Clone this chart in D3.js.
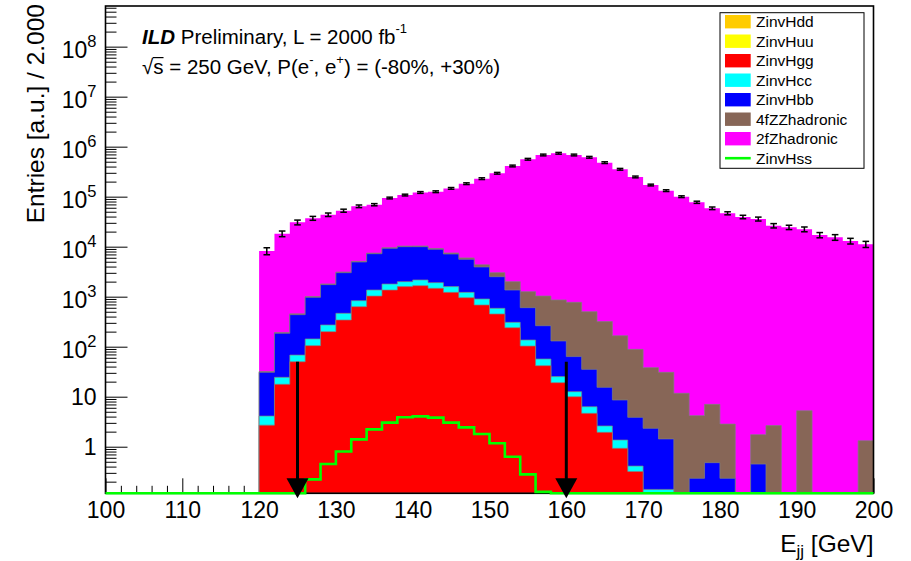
<!DOCTYPE html>
<html>
<head>
<meta charset="utf-8">
<script src="https://cdn.jsdelivr.net/npm/d3@7"></script>
<style>
body { margin: 0; background: #fff; }
text { font-family: "Liberation Sans", Arial, Helvetica, sans-serif; fill: #000; }
</style>
</head>
<body>
<div id="chart"></div>
<script>
// 2 GeV bins from 100 to 200 GeV
var binEdges = d3.range(100, 201, 2);

// bin contents (bins below 120 GeV are empty)
var zinvHdd = [0,0,0,0,0,0,0,0,0,0, 0,0,0,0,0,0,0,0,0,0, 0,0,0,0,0,0,0,0,0,0, 0,0,0,0,0,0,0,0,0,0, 0,0,0,0,0,0,0,0,0,0];
var zinvHuu = [0,0,0,0,0,0,0,0,0,0, 0,0,0,0,0,0,0,0,0,0, 0,0,0,0,0,0,0,0,0,0, 0,0,0,0,0,0,0,0,0,0, 0,0,0,0,0,0,0,0,0,0];
var zinvHgg = [0,0,0,0,0,0,0,0,0,0, 2.7,17.7,50,105,200,342,631,1030,1360,1590, 1660,1470,1220,955,682,451,240,103,41.7,19.1, 10.0,4.65,1.94,0.93,0.32,0,0,0,0,0, 0,0,0,0,0,0,0,0,0,0];
var zinvHcc = [0,0,0,0,0,0,0,0,0,0, 1.4,6.7,18,38,72,123,201,330,430,410, 500,440,370,265,217,134,67,33,15,6.1, 2.6,1.65,0.66,0.43,0.09,0.14,0.14,0,0,0, 0,0,0,0,0,0,0,0,0,0];
var zinvHbb = [0,0,0,0,0,0,0,0,0,0, 26.6,161,369,827,1470,2555,4110,5880,7480,8000, 7840,6940,5550,4360,3030,1925,1053,467,206,105, 50.8,28.9,12.8,7.24,3.45,2.19,1.29,0,0.233,0.48, 0.233,0,0.45,0,0,0,0,0,0,0];
var zz4fHadronic = [0,0,0,0,0,0,0,0,0,0, 1.2,7,17,35,60,100,150,210,260,300, 330,350,360,380,400,510,640,657,767,729, 708,467,302,157,84.6,35.8,29.3,11.7,3.95,6.55, 2.6,0,1.29,2.64,0,5.26,0,0,0,1.32];
var z2fHadronic = [0,0,0,0,0,0,0,0,0,0, 8170,18000,30200,36000,41800,49400,59200,61700,84500,97500, 111000,116500,139000,176000,225000,291000,409000,559000,681000,737000, 681000,613000,479000,353000,248000,171000,132000,100000,77300,58600, 46600,39300,35800,26300,24400,22300,17100,15400,13000,11200];
var zinvHss = [0,0,0,0,0,0,0,0,0,0, 0,0,0,0.222,0.45,0.80,1.40,2.22,3.03,3.87, 4.05,3.81,3.03,2.44,1.79,1.17,0.63,0.28,0.125,0, 0,0,0,0,0,0,0,0,0,0, 0,0,0,0,0,0,0,0,0,0];
// relative error on the total, in percent
var totalErrPct = [0,0,0,0,0,0,0,0,0,0, 16,13,11,9,8,7,6,5,4,4, 4,4,4,4,4,4,4,4,4,4, 4,4,4,4,4,4,4,4,5,6, 7,8,9,10,10,11,12,13,13,14];

var seriesNames = ["ZinvHdd", "ZinvHuu", "ZinvHgg", "ZinvHcc", "ZinvHbb", "4fZZhadronic", "2fZhadronic"];
var seriesColors = ["#ffcc00", "#ffff00", "#ff0000", "#00ffff", "#0000ff", "#876657", "#ff00ff"];
var hssName = "ZinvHss", hssColor = "#00ff00";

var cutValues = [125, 160];   // selection cut arrows
var arrowTop = 50;

var xTicks = [100, 110, 120, 130, 140, 150, 160, 170, 180, 190, 200];
var yMajor = [1, 10, 1e2, 1e3, 1e4, 1e5, 1e6, 1e7, 1e8];
var yTickLabels = ["1", "10", "10^2", "10^3", "10^4", "10^5", "10^6", "10^7", "10^8"];

var width = 911, height = 561;
var yMin = 0.117, yMax = 6.5e8;

var svg = d3.select("#chart").append("svg")
  .attr("width", width).attr("height", height)
  .style("display", "block");

var x = d3.scaleLinear().domain([100, 200]).range([105.5, 873.5]);
var y = d3.scaleLog().domain([yMin, yMax]).range([493.3, 6]);
function yc(v) { return y(Math.max(v, yMin)); }

// minor ticks
var xMinor = d3.range(100, 201, 2).filter(function(v) { return v % 10 !== 0; });
var yMinor = [];
for (var e = -1; e <= 8; e++) {
  for (var m = 2; m <= 9; m++) {
    var v = m * Math.pow(10, e);
    if (v > yMin && v < yMax) yMinor.push(v);
  }
}

// ticks point into the frame (ROOT style)
var axisG = svg.append("g");
axisG.append("g").attr("transform", "translate(105.5,0)")
  .call(d3.axisLeft(y).tickValues(yMinor).tickSize(-11).tickFormat(""));
axisG.append("g").attr("transform", "translate(105.5,0)")
  .call(d3.axisLeft(y).tickValues(yMajor).tickSize(-22).tickFormat(""));
axisG.append("g").attr("transform", "translate(0,493.3)")
  .call(d3.axisBottom(x).tickValues(xMinor).tickSize(-7.5).tickFormat(""));
axisG.append("g").attr("transform", "translate(0,493.3)")
  .call(d3.axisBottom(x).tickValues(xTicks).tickSize(-15).tickPadding(8.7).tickFormat(d3.format("d")));
axisG.selectAll(".domain").remove();
axisG.selectAll(".tick line").attr("stroke", "#000").attr("stroke-width", 1);
axisG.selectAll(".tick text").attr("font-size", 23).attr("font-family", null);

// y labels with exponents
yMajor.forEach(function(val, i) {
  var lab = yTickLabels[i];
  var t = svg.append("text").attr("x", 96.5).attr("text-anchor", "end").attr("font-size", 23);
  if (lab.indexOf("^") >= 0) {
    var parts = lab.split("^");
    t.attr("y", y(val) + 11.5);
    t.append("tspan").text(parts[0]);
    t.append("tspan").attr("font-size", 16.5).attr("dy", -11.5).text(parts[1]);
  } else {
    t.attr("y", y(val) + 8).text(lab);
  }
});

// stacked histogram
var rows = binEdges.slice(0, -1).map(function(lo, i) {
  return { lo: lo, ZinvHdd: zinvHdd[i], ZinvHuu: zinvHuu[i], ZinvHgg: zinvHgg[i], ZinvHcc: zinvHcc[i],
           ZinvHbb: zinvHbb[i], "4fZZhadronic": zz4fHadronic[i], "2fZhadronic": z2fHadronic[i] };
});
var stacked = d3.stack().keys(seriesNames)(rows);

function stepPoints(vals) {
  var pts = vals.map(function(v, i) { return [binEdges[i], v]; });
  pts.push([binEdges[binEdges.length - 1], vals[vals.length - 1]]);
  return pts;
}
var area = d3.area().curve(d3.curveStepAfter)
  .x(function(d) { return x(d[0]); })
  .y0(y(yMin))
  .y1(function(d) { return yc(d[1]); });
var line = d3.line().curve(d3.curveStepAfter)
  .x(function(d) { return x(d[0]); })
  .y(function(d) { return yc(d[1]); });

// draw the cumulative layers from the top one down
var histG = svg.append("g");
for (var k = stacked.length - 1; k >= 0; k--) {
  var tops = stacked[k].map(function(d) { return d[1]; });
  var pts = stepPoints(tops);
  histG.append("path").attr("d", area(pts)).attr("fill", seriesColors[k]);
  if (k < stacked.length - 1) {
    histG.append("path").attr("d", line(pts)).attr("fill", "none")
      .attr("stroke", "#808080").attr("stroke-opacity", 0.7).attr("stroke-width", 1);
  }
}

// frame
svg.append("rect").attr("x", 105.5).attr("y", 6).attr("width", 768).attr("height", 487.3)
  .attr("fill", "none").attr("stroke", "#000").attr("stroke-width", 1.6);

// ZinvHss as a line on top
svg.append("path").attr("d", line(stepPoints(zinvHss)))
  .attr("fill", "none").attr("stroke", hssColor).attr("stroke-width", 2.6);

// error bars on the total
var totals = stacked[stacked.length - 1].map(function(d) { return d[1]; });
var errG = svg.append("g").attr("stroke", "#000").attr("stroke-width", 1.5);
totals.forEach(function(tot, i) {
  if (tot <= 0) return;
  var cx = x(binEdges[i] + 1);
  var f = totalErrPct[i] / 100;
  var yLo = y(tot * (1 - f)), yHi = y(tot * (1 + f));
  errG.append("line").attr("x1", cx).attr("x2", cx).attr("y1", yLo).attr("y2", yHi);
  errG.append("line").attr("x1", cx - 3.3).attr("x2", cx + 3.3).attr("y1", yLo).attr("y2", yLo);
  errG.append("line").attr("x1", cx - 3.3).attr("x2", cx + 3.3).attr("y1", yHi).attr("y2", yHi);
});

// cut arrows
cutValues.forEach(function(c) {
  var cx = x(c);
  var base = y(yMin) - 15, tip = y(yMin) + 5;
  svg.append("line").attr("x1", cx).attr("x2", cx).attr("y1", y(arrowTop)).attr("y2", base + 2)
    .attr("stroke", "#000").attr("stroke-width", 3);
  svg.append("path").attr("d", "M" + (cx - 11) + "," + base + "L" + (cx + 11) + "," + base + "L" + cx + "," + tip + "Z")
    .attr("fill", "#000");
});

// legend
var lg = svg.append("g");
lg.append("rect").attr("x", 720).attr("y", 12.7).attr("width", 144).attr("height", 155.6)
  .attr("fill", "#fff").attr("stroke", "#000").attr("stroke-width", 1);
var legendNames = seriesNames.concat([hssName]);
legendNames.forEach(function(name, i) {
  var cy = 21.7 + 19.5 * i;
  if (i < seriesNames.length) {
    lg.append("rect").attr("x", 725).attr("y", cy - 6.7).attr("width", 25.7).attr("height", 13.4)
      .attr("fill", seriesColors[i]);
  } else {
    lg.append("line").attr("x1", 725).attr("x2", 750.7).attr("y1", cy).attr("y2", cy)
      .attr("stroke", hssColor).attr("stroke-width", 2.6);
  }
  lg.append("text").attr("x", 756).attr("y", cy + 5.5).attr("font-size", 15.5).text(name);
});

// header text
var h1 = svg.append("text").attr("x", 142).attr("y", 44).attr("font-size", 20.5);
h1.append("tspan").attr("font-weight", "bold").attr("font-style", "italic").text("ILD");
h1.append("tspan").text(" Preliminary, L = 2000 fb");
h1.append("tspan").attr("font-size", 13).attr("dy", -11).text("-1");

var h2 = svg.append("text").attr("x", 142).attr("y", 74).attr("font-size", 20.5);
h2.append("tspan").text("\u221A");
h2.append("tspan").text("s");
h2.append("tspan").text(" = 250 GeV, P(e");
h2.append("tspan").attr("font-size", 13).attr("dy", -10).text("-");
h2.append("tspan").attr("dy", 10).text(", e");
h2.append("tspan").attr("font-size", 13).attr("dy", -10).text("+");
h2.append("tspan").attr("dy", 10).text(") = (-80%, +30%)");
var sExt = h2.node().getExtentOfChar(1);
svg.append("line").attr("x1", sExt.x - 0.5).attr("x2", sExt.x + sExt.width)
  .attr("y1", 74 - 16.4).attr("y2", 74 - 16.4).attr("stroke", "#000").attr("stroke-width", 1.2);

// axis titles
svg.append("text").attr("transform", "translate(44,4) rotate(-90)")
  .attr("text-anchor", "end").attr("font-size", 24.5).text("Entries [a.u.] / 2.000");

var xt = svg.append("text").attr("x", 873.5).attr("y", 551.7).attr("text-anchor", "end").attr("font-size", 24.5);
xt.append("tspan").text("E");
xt.append("tspan").attr("font-size", 17).attr("dy", 5).text("jj");
xt.append("tspan").attr("dy", -5).text(" [GeV]");
</script>
</body>
</html>
